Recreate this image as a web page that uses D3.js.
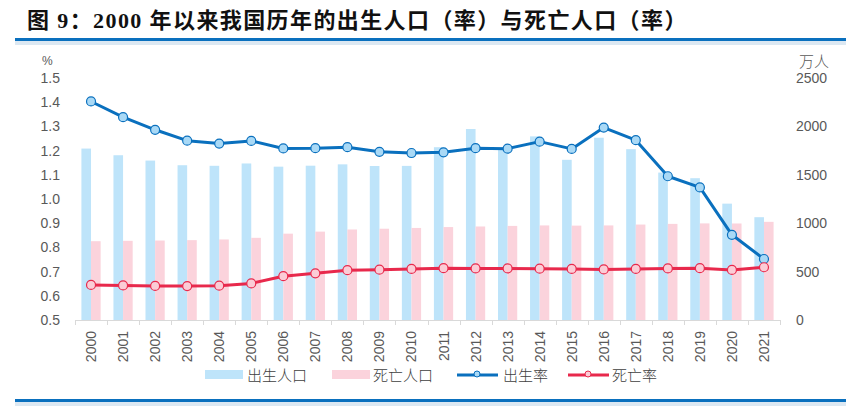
<!DOCTYPE html>
<html><head><meta charset="utf-8">
<script src="https://cdn.jsdelivr.net/npm/d3@7/dist/d3.min.js"></script>
<style>
html,body{margin:0;padding:0;background:#fff;}
svg{display:block;}
</style></head>
<body>
<svg id="chart" width="856" height="410"></svg>
<script>
const years = ["2000","2001","2002","2003","2004","2005","2006","2007","2008","2009","2010","2011","2012","2013","2014","2015","2016","2017","2018","2019","2020","2021"];
const birthPop = [1771,1702,1647,1599,1593,1617,1584,1594,1608,1591,1592,1785,1973,1776,1897,1655,1883,1765,1523,1465,1202,1062];
const deathPop = [814,818,821,825,832,849,892,913,935,943,951,960,966,972,977,975,977,986,993,998,997,1014];
const birthRate = [1.403,1.338,1.286,1.241,1.229,1.240,1.209,1.210,1.214,1.195,1.190,1.193,1.210,1.208,1.237,1.207,1.295,1.243,1.094,1.048,0.852,0.752];
const deathRate = [0.645,0.643,0.641,0.640,0.642,0.651,0.681,0.693,0.706,0.708,0.711,0.714,0.713,0.713,0.712,0.711,0.709,0.711,0.713,0.714,0.707,0.718];
const leftTicks = [0.5,0.6,0.7,0.8,0.9,1.0,1.1,1.2,1.3,1.4,1.5];
const rightTicks = [0,500,1000,1500,2000,2500];
const seriesNames = ["出生人口","死亡人口","出生率","死亡率"];
const titleText = "图 9：2000 年以来我国历年的出生人口（率）与死亡人口（率）";

const C = {
  birthBar: "#BEE4FA", deathBar: "#FBD3DC",
  birthLine: "#0A70BE", birthDot: "#A9D9F6",
  deathLine: "#E8294C", deathDot: "#FBCCD6",
  text: "#595959", axis: "#D9D9D9", rule: "#0A70BE"
};

const svg = d3.select("#chart");
const L = 75, R = 780, T = 78, B = 320;

// title
svg.append("text").attr("x", 27).attr("y", 28)
  .attr("font-family", "'Liberation Serif','Noto Sans CJK SC',serif")
  .attr("font-weight", "bold").attr("font-size", 22).attr("letter-spacing", 1.4).attr("fill", "#111")
  .text(titleText);

// rules
[39.5, 400.5].forEach(y => {
  svg.append("rect").attr("x", 15).attr("y", y + 1.5).attr("width", 831).attr("height", 4).attr("fill", "#DCE8F2");
  svg.append("rect").attr("x", 15).attr("y", y - 1.5).attr("width", 831).attr("height", 3).attr("fill", C.rule);
});

const x = d3.scaleBand().domain(years).range([L, R]).paddingInner(0.4).paddingOuter(0.2);
const xs = d3.scaleBand().domain(["b","d"]).range([0, x.bandwidth()]);
const yL = d3.scaleLinear().domain([0.5, 1.5]).range([B, T]);
const yR = d3.scaleLinear().domain([0, 2500]).range([B, T]);
const cx = d => x(d) + x.bandwidth() / 2;

// bars
const g = svg.append("g");
g.selectAll(".bb").data(years).enter().append("rect")
  .attr("x", d => x(d) + xs("b")).attr("width", xs.bandwidth())
  .attr("y", (d, i) => yR(birthPop[i])).attr("height", (d, i) => B - yR(birthPop[i]))
  .attr("fill", C.birthBar);
g.selectAll(".db").data(years).enter().append("rect")
  .attr("x", d => x(d) + xs("d")).attr("width", xs.bandwidth())
  .attr("y", (d, i) => yR(deathPop[i])).attr("height", (d, i) => B - yR(deathPop[i]))
  .attr("fill", C.deathBar);

// x axis line and boundary ticks
const step = x.step();
svg.append("line").attr("x1", L).attr("x2", R).attr("y1", B + 0.5).attr("y2", B + 0.5)
  .attr("stroke", C.axis).attr("stroke-width", 1);
d3.range(years.length + 1).forEach(i => {
  const xx = Math.round(L + i * step) + 0.5;
  svg.append("line").attr("x1", xx).attr("x2", xx).attr("y1", B).attr("y2", B + 5)
    .attr("stroke", C.axis);
});
svg.selectAll(".xl").data(years).enter().append("text")
  .attr("transform", d => `translate(${cx(d) + 5},${B + 11}) rotate(-90)`)
  .attr("text-anchor", "end")
  .attr("font-family", "'Liberation Sans',Arial,sans-serif").attr("font-size", 14)
  .attr("fill", C.text).text(d => d);

// y axes
const axL = d3.axisLeft(yL).tickValues(leftTicks).tickFormat(d3.format(".1f")).tickSize(0).tickPadding(0);
const gl = svg.append("g").attr("transform", "translate(60,0)").call(axL);
const axR = d3.axisRight(yR).tickValues(rightTicks).tickFormat(d3.format("d")).tickSize(0).tickPadding(0);
const gr = svg.append("g").attr("transform", "translate(796,0)").call(axR);
[gl, gr].forEach(a => {
  a.select(".domain").remove();
  a.selectAll("text").attr("font-family", "'Liberation Sans',Arial,sans-serif")
    .attr("font-size", 14).attr("fill", C.text);
});
svg.append("text").attr("x", 42).attr("y", 65).attr("font-family", "'Liberation Sans',Arial,sans-serif")
  .attr("font-size", 12).attr("fill", C.text).text("%");
svg.append("text").attr("x", 799).attr("y", 67).attr("font-family", "'Noto Sans CJK SC',sans-serif")
  .attr("font-size", 15).attr("font-weight", 300).attr("fill", C.text).text("万人");

// lines
function drawLine(vals, stroke, fill) {
  const line = d3.line().x((d, i) => cx(years[i])).y(d => yL(d));
  svg.append("path").datum(vals).attr("d", line).attr("fill", "none")
    .attr("stroke", stroke).attr("stroke-width", 3).attr("stroke-linejoin", "round");
  svg.append("g").selectAll("circle").data(vals).enter().append("circle")
    .attr("cx", (d, i) => cx(years[i])).attr("cy", d => yL(d)).attr("r", 4.5)
    .attr("fill", fill).attr("stroke", stroke).attr("stroke-width", 1.2);
}
drawLine(birthRate, C.birthLine, C.birthDot);
drawLine(deathRate, C.deathLine, C.deathDot);

// legend
const lg = svg.append("g").attr("font-family", "'Noto Sans CJK SC',sans-serif").attr("font-size", 15)
  .attr("font-weight", 300).attr("fill", "#404040");
const ly = 375;
lg.append("rect").attr("x", 205).attr("y", ly - 5).attr("width", 38).attr("height", 9).attr("fill", C.birthBar);
lg.append("text").attr("x", 247).attr("y", ly + 6).text(seriesNames[0]);
lg.append("rect").attr("x", 332).attr("y", ly - 5).attr("width", 38).attr("height", 9).attr("fill", C.deathBar);
lg.append("text").attr("x", 373).attr("y", ly + 6).text(seriesNames[1]);
[[457, C.birthLine, C.birthDot, 503, seriesNames[2]], [568, C.deathLine, C.deathDot, 612, seriesNames[3]]].forEach(([x0, s, f, tx, name]) => {
  lg.append("line").attr("x1", x0).attr("x2", x0 + 41).attr("y1", ly).attr("y2", ly).attr("stroke", s).attr("stroke-width", 3);
  lg.append("circle").attr("cx", x0 + 20).attr("cy", ly - 1).attr("r", 3).attr("fill", f).attr("stroke", s).attr("stroke-width", 1);
  lg.append("text").attr("x", tx).attr("y", ly + 6).text(name);
});
</script>
</body></html>
